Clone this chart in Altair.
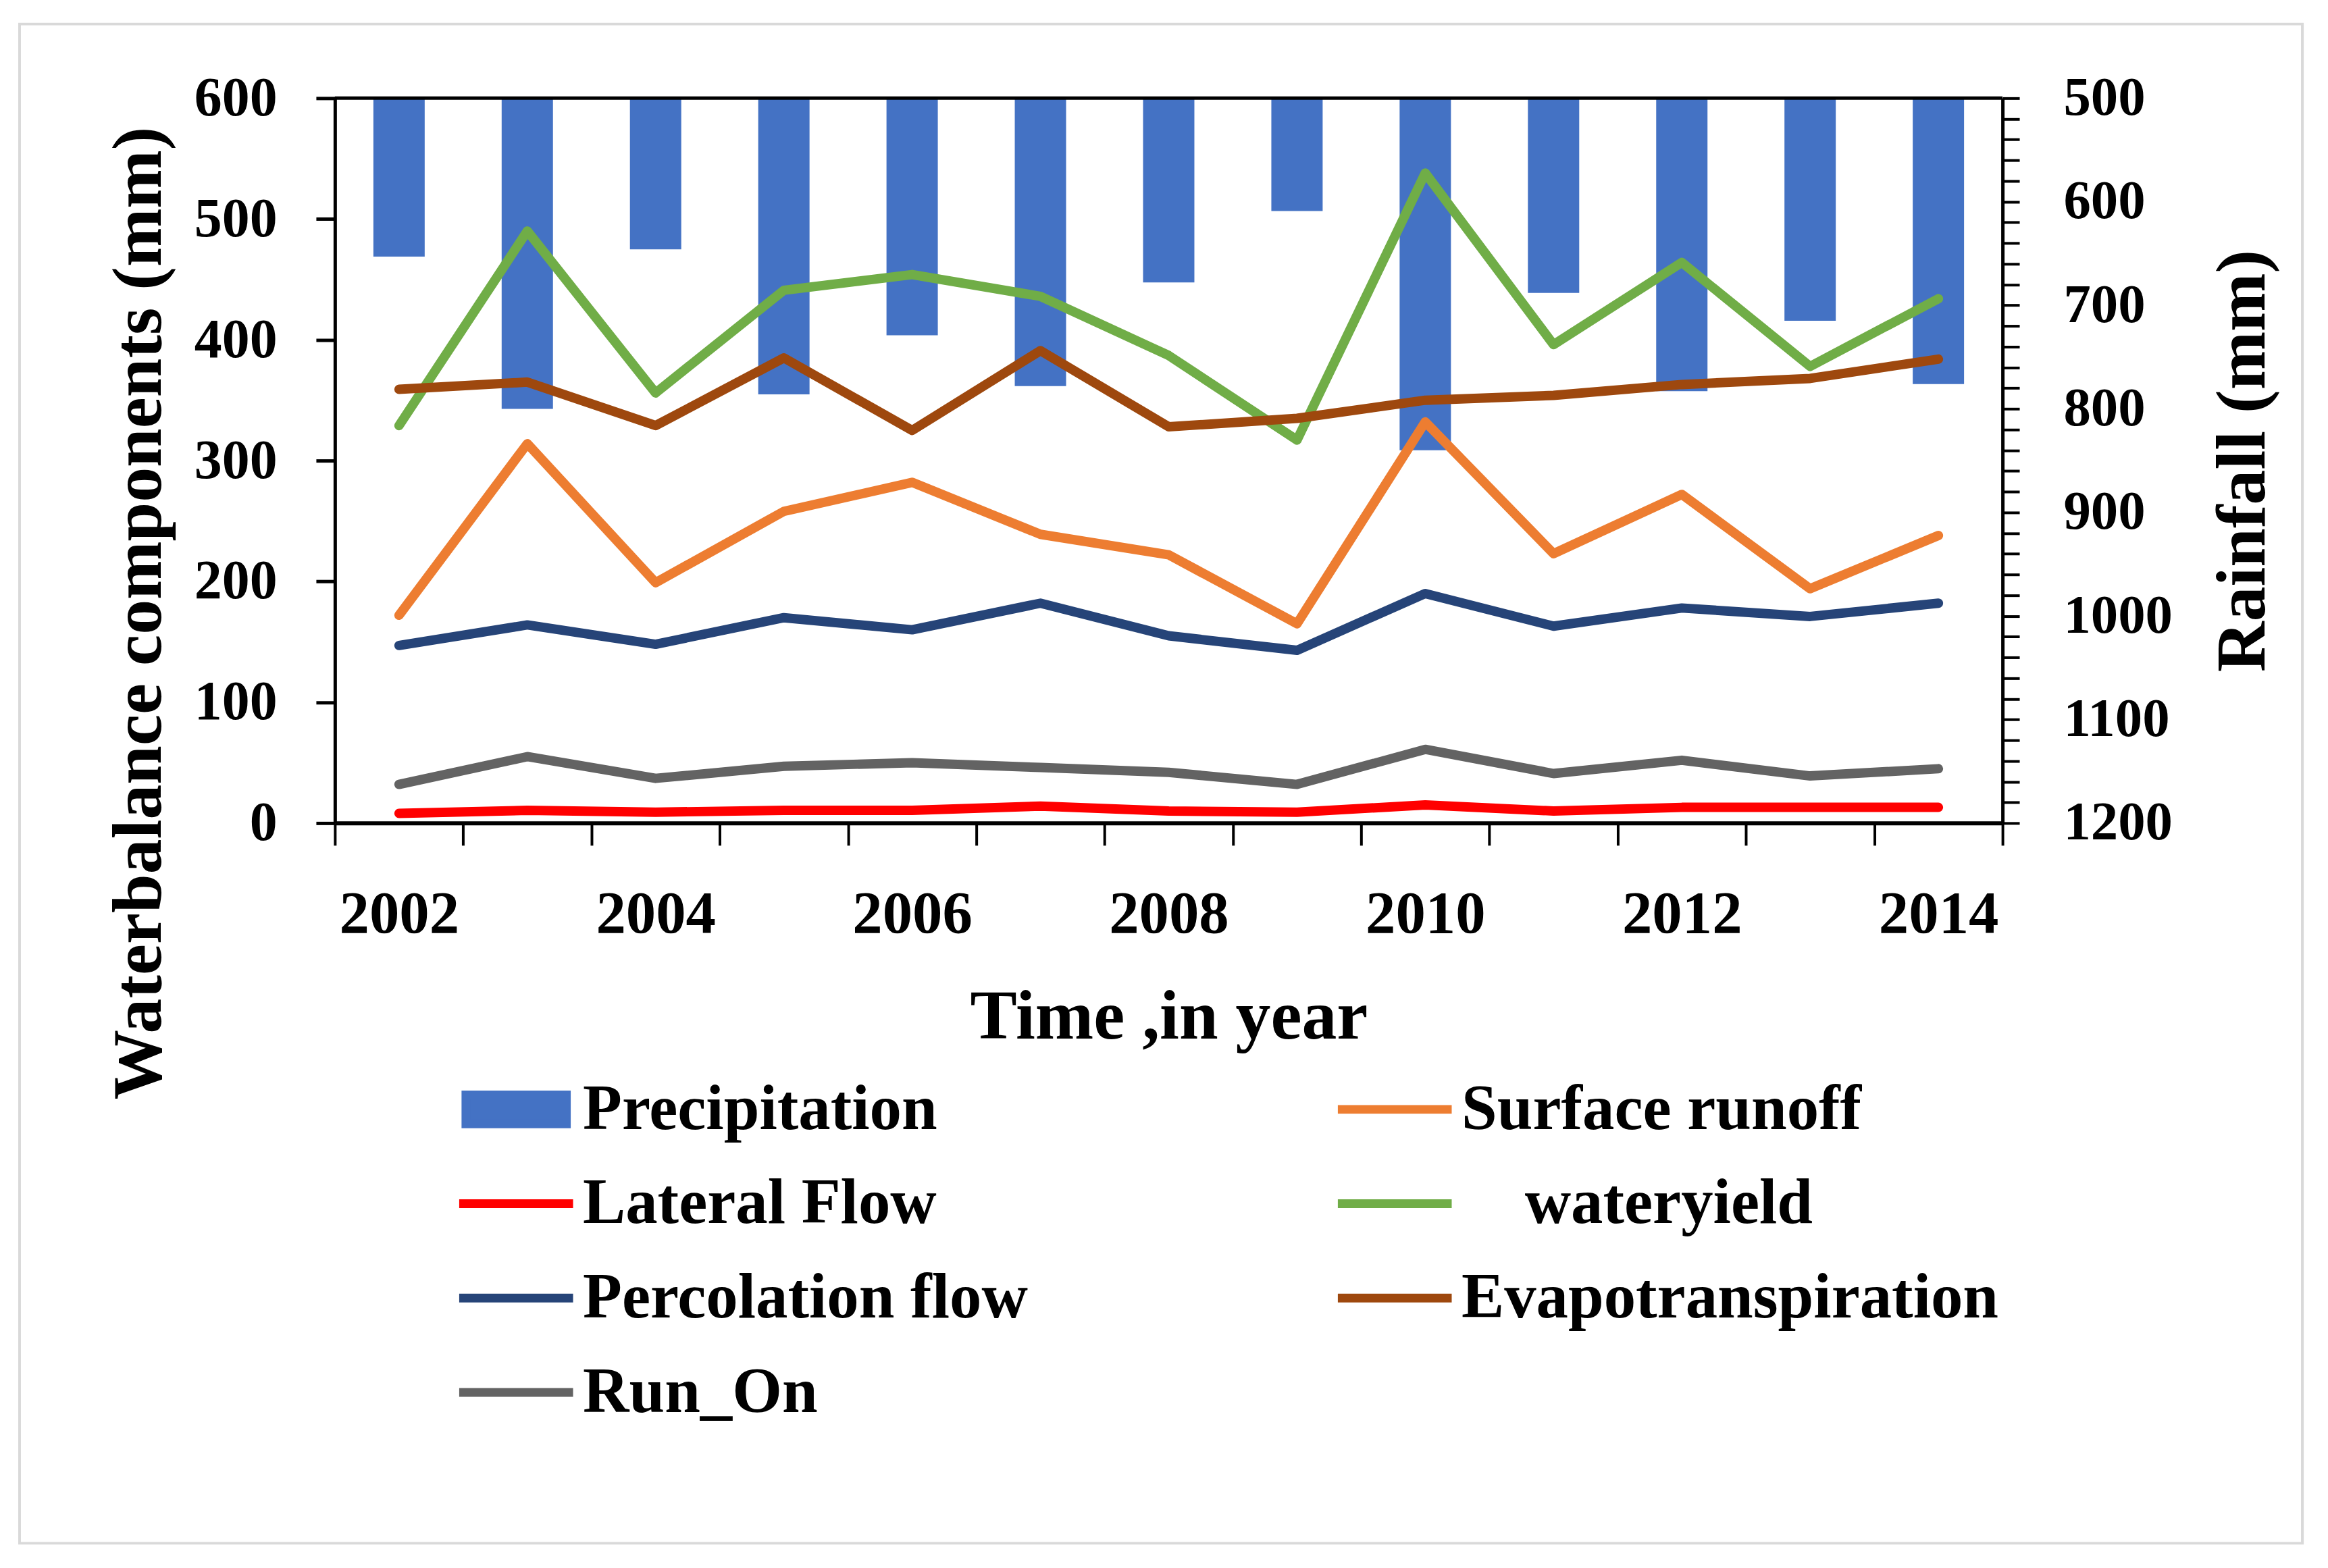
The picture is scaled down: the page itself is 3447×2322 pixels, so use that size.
import altair as alt
import pandas as pd

# ---------------- data ----------------
years = list(range(2002, 2015))
precipitation = [653, 800, 646, 786, 729, 778, 678, 609, 840, 688, 783, 715, 776]
surface_runoff = [172, 314, 199, 258, 282, 239, 222, 165, 332, 223, 272, 194, 238]
lateral_flow = [8, 10.5, 9, 10.5, 10.5, 14, 10, 9, 15, 10, 13, 13, 13]
wateryield = [329, 490, 356, 441, 454, 436, 387, 317, 538, 396, 464, 378, 434]
percolation_flow = [147, 164, 148, 170, 160, 182, 155, 143, 190, 163, 178, 171, 182]
evapotranspiration = [359, 365, 329, 385, 325, 391, 328, 335, 350, 354, 363, 368, 384]
run_on = [32, 55, 37, 47, 50, 46, 42, 32, 61, 41, 52, 39, 45]

# series names as they appear in the legend (wateryield carries a blank indent)
WY = "\u2800\u00a0wateryield"
series_names = ["Precipitation", "Surface runoff", "Lateral Flow", WY,
                "Percolation flow", "Evapotranspiration", "Run_On"]
series_colors = ["#4472C4", "#ED7D31", "#FF0000", "#70AD47",
                 "#264478", "#9E480E", "#636363"]
left_ticks = [0, 100, 200, 300, 400, 500, 600]
right_ticks = list(range(500, 1201, 20))

line_series = {
    "Surface runoff": surface_runoff,
    "Lateral Flow": lateral_flow,
    WY: wateryield,
    "Percolation flow": percolation_flow,
    "Evapotranspiration": evapotranspiration,
    "Run_On": run_on,
}

precip_df = pd.DataFrame({"year": years, "rain": precipitation,
                          "series": ["Precipitation"] * len(years)})
rows = []
for name, vals in line_series.items():
    for y, v in zip(years, vals):
        rows.append({"year": y, "value": v, "series": name})
lines_df = pd.DataFrame(rows)
one_row = pd.DataFrame({"k": [0]})

# ---------------- styling ----------------
FONT = "Liberation Serif"
W, H = 2475, 1076

color_scale = alt.Scale(domain=series_names, range=series_colors)
x_scale = alt.Scale(paddingInner=0, paddingOuter=0)

legend = alt.Legend(
    title=None, orient="none", legendX=178, legendY=1410,
    direction="horizontal", columns=2,
    symbolType=alt.ExprRef(expr="datum.value == 'Precipitation' ? 'M-0.882,-0.254H0.882V0.254H-0.882Z' : 'stroke'"),
    symbolSize=28561, symbolStrokeWidth=13, symbolOpacity=1,
    labelFont=FONT, labelFontSize=95, labelFontWeight="bold", labelColor="black",
    labelOffset=8, columnPadding=296, rowPadding=1, gridAlign="all", padding=0,
    labelLimit=3000,
)

x_axis = alt.Axis(
    orient="bottom", tickBand="extent", labelAngle=0,
    labelExpr="datum.value % 2 == 0 ? datum.label : ''",
    domainWidth=6, tickWidth=4, tickSize=33, labelPadding=59,
    labelFontSize=89, labelOverlap=False,
    title="Time ,in year", titleFontSize=104, titleY=319,
    titleBaseline="alphabetic",
)

left_axis = alt.Axis(
    values=left_ticks, orient="left", format="d",
    domainWidth=5, tickWidth=5, tickSize=28, labelPadding=58,
    labelFontSize=82, labelOverlap=False, labelFlush=False,
    title="Waterbalance components (mm)", titleFontSize=104,
    titleAngle=270, titleX=-259, titleY=764, titleAlign="center",
    titleBaseline="alphabetic",
)

right_axis = alt.Axis(
    values=right_ticks, orient="right", format="d",
    labelExpr="datum.value % 100 == 0 ? datum.label : ''",
    domainWidth=5, tickWidth=4, tickSize=25, labelPadding=65,
    labelFontSize=81, labelOverlap=False, labelFlush=False,
    title="Rainfall (mm)", titleFontSize=104,
    titleAngle=270, titleX=388, titleY=538, titleAlign="center",
    titleBaseline="alphabetic",
)

border = alt.Chart(one_row).mark_rect(
    fill="white", fillOpacity=0, stroke="#D9D9D9", strokeWidth=4
).encode(x=alt.value(-468), x2=alt.value(2920), y=alt.value(-110), y2=alt.value(2145))

bars = alt.Chart(precip_df).mark_bar(width=alt.RelativeBandSize(0.4)).encode(
    x=alt.X("year:O", scale=x_scale, axis=x_axis),
    y=alt.Y("rain:Q", scale=alt.Scale(domain=[500, 1200], reverse=True, zero=False, nice=False),
            axis=right_axis),
    y2=alt.datum(500),
    color=alt.Color("series:N", scale=color_scale, legend=legend),
)

lines = alt.Chart(lines_df).mark_line(
    strokeWidth=14, strokeCap="round", strokeJoin="round"
).encode(
    x=alt.X("year:O", scale=x_scale, axis=x_axis),
    y=alt.Y("value:Q", scale=alt.Scale(domain=[0, 600], nice=False), axis=left_axis),
    color=alt.Color("series:N", scale=color_scale, legend=legend),
)

top_rule = alt.Chart(one_row).mark_rule(color="black", strokeWidth=5).encode(
    x=alt.value(0), x2=alt.value(W), y=alt.value(0)
)

chart = (
    alt.layer(border, bars, lines, top_rule)
    .resolve_scale(y="independent")
    .properties(
        width=W, height=H,
        autosize=alt.AutoSizeParams(type="none"),
        padding={"left": 489, "top": 135, "right": 475, "bottom": 1095},
        background="white",
    )
    .configure_view(stroke=None)
    .configure_axis(
        labelFont=FONT, titleFont=FONT, labelFontWeight="bold", titleFontWeight="bold",
        labelColor="black", titleColor="black", domainColor="black", tickColor="black",
        grid=False,
    )
)

chart.save("out.html", embed_options={"renderer": "svg", "actions": False})
